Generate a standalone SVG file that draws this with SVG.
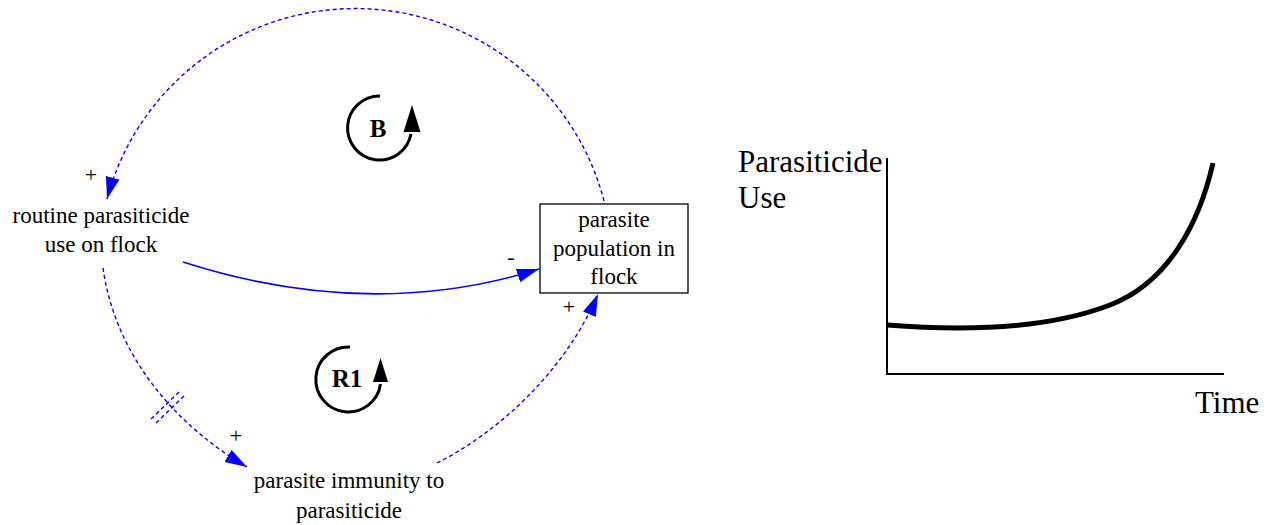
<svg xmlns="http://www.w3.org/2000/svg" width="1277" height="525" viewBox="0 0 1277 525">
<style>
  text{font-family:'Liberation Serif','Times New Roman',serif;fill:#000}
  .lbl{font-size:23px;text-anchor:middle}
  .sign{font-size:22px;text-anchor:middle}
  .loopt{font-size:25px;font-weight:bold;text-anchor:middle}
  .axt{font-size:31px}
  .dash{fill:none;stroke:#0000FF;stroke-width:1.4;stroke-dasharray:4 3}
  .solid{fill:none;stroke:#0000FF;stroke-width:1.6}
  .loop{fill:none;stroke:#000;stroke-width:3}
</style>
<defs>
  <marker id="ah" markerUnits="userSpaceOnUse" markerWidth="24" markerHeight="16" refX="22" refY="7" orient="auto">
    <path d="M0,0 L22,7 L0,14 z" fill="#0000FF"/>
  </marker>
</defs>
<rect width="1277" height="525" fill="#fff"/>

<g id="connectors">
  <path class="dash" d="M604,201 A257,257 0 0 0 107,199" marker-end="url(#ah)"/>
  <path class="solid" d="M183,262 Q370,322 539,269" marker-end="url(#ah)"/>
  <path class="dash" d="M103,268 C115,355 175,425 247,467" marker-end="url(#ah)"/>
  <line class="dash" x1="151" y1="419" x2="181" y2="390"/>
  <line class="dash" x1="156" y1="423" x2="186" y2="394"/>
  <path class="dash" d="M437,463 C497,433 565,372 598,294" marker-end="url(#ah)"/>
  <text class="sign" x="91" y="182">+</text>
  <text class="sign" x="511" y="264">-</text>
  <text class="sign" x="236" y="443">+</text>
  <text class="sign" x="569" y="314">+</text>
</g>

<g id="node-routine">
  <text class="lbl" x="101" y="223">routine parasiticide</text>
  <text class="lbl" x="101" y="252">use on flock</text>
</g>

<g id="node-population">
  <rect x="540" y="204" width="148" height="89" fill="#fff" stroke="#000" stroke-width="1.3"/>
  <text class="lbl" x="614" y="227">parasite</text>
  <text class="lbl" x="614" y="256">population in</text>
  <text class="lbl" x="614" y="284">flock</text>
</g>

<g id="node-immunity">
  <text class="lbl" x="349" y="488">parasite immunity to</text>
  <text class="lbl" x="349" y="518">parasiticide</text>
</g>

<g id="loop-B">
  <path class="loop" d="M380,96 A32,32 0 1 0 411,134"/>
  <path d="M412,105 L420.5,132 L403.5,132 z" fill="#000"/>
  <text class="loopt" x="378" y="137">B</text>
</g>

<g id="loop-R1">
  <path class="loop" d="M350,347 A32.5,32.5 0 1 0 380.5,384"/>
  <path d="M380.5,358 L388,382 L373,382 z" fill="#000"/>
  <text class="loopt" x="347" y="387">R1</text>
</g>

<g id="chart">
  <line x1="887" y1="158" x2="887" y2="375" stroke="#000" stroke-width="2"/>
  <line x1="886" y1="374" x2="1224" y2="374" stroke="#000" stroke-width="2"/>
  <path d="M887,325 C950,330 1040,332 1110,305 C1170,282 1200,220 1213,163" fill="none" stroke="#000" stroke-width="5"/>
  <text class="axt" x="738" y="172">Parasiticide</text>
  <text class="axt" x="738" y="208">Use</text>
  <text class="axt" x="1195" y="413">Time</text>
</g>
</svg>
